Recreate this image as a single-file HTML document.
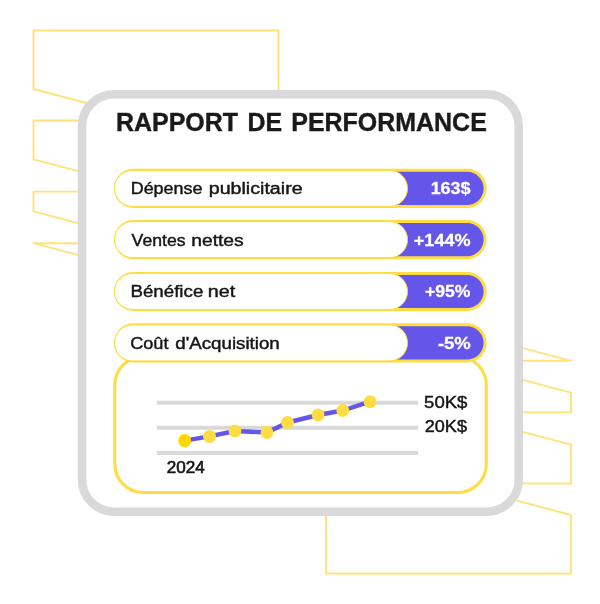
<!DOCTYPE html>
<html><head><meta charset="utf-8">
<style>
html,body{margin:0;padding:0;background:#fff;width:600px;height:604px;overflow:hidden}
svg{display:block;will-change:transform}
text{font-family:"Liberation Sans",sans-serif}
</style></head>
<body>
<svg width="600" height="604" viewBox="0 0 600 604">
  <!-- background folded shapes -->
  <g fill="none" stroke="#FFE27A" stroke-width="1.9" stroke-linejoin="round">
    <polygon points="33.5,30.5 278.5,30.5 278.5,153.9 33.5,89"/>
    <polygon points="33.5,120.5 278.5,120.5 278.5,224.3 33.5,159.4"/>
    <polygon points="33.5,191.6 278.5,191.6 278.5,276.3 33.5,211.4"/>
    <polygon points="33.5,243.2 278.5,243.2 278.5,308.1 33.5,243.2"/>
    <g transform="translate(604.5,604) rotate(180)">
      <polygon points="33.5,30.5 278.5,30.5 278.5,153.9 33.5,89"/>
      <polygon points="33.5,120.5 278.5,120.5 278.5,224.3 33.5,159.4"/>
      <polygon points="33.5,191.6 278.5,191.6 278.5,276.3 33.5,211.4"/>
      <polygon points="33.5,243.2 278.5,243.2 278.5,308.1 33.5,243.2"/>
    </g>
  </g>
  <!-- card -->
  <rect x="82.05" y="94.25" width="436.7" height="417.4" rx="32" ry="32" fill="#fff" stroke="#D9D9D9" stroke-width="8.5"/>
  <g font-size="25" font-weight="bold" fill="#1A1A1A" stroke="#1A1A1A" stroke-width="0.4">
    <text x="116" y="130.8" textLength="122" lengthAdjust="spacingAndGlyphs">RAPPORT</text>
    <text x="247.5" y="130.8" textLength="34.5" lengthAdjust="spacingAndGlyphs">DE</text>
    <text x="291.3" y="130.8" textLength="195.5" lengthAdjust="spacingAndGlyphs">PERFORMANCE</text>
  </g>

  <!-- chart box -->
  <rect x="114.8" y="356.5" width="371.5" height="136" rx="28.5" ry="28.5" fill="#fff" stroke="#FFDC3F" stroke-width="3"/>

  <!-- rows -->
  <rect x="114" y="168.8" width="372.6" height="39.2" rx="19.6" fill="#FFDC3F"/>
  <rect x="200" y="171.80" width="283.6" height="33.2" rx="16.6" fill="#6556EA"/>
  <rect x="114.5" y="170.40" width="293" height="36" rx="18" fill="#fff" stroke="#FFDC3F" stroke-width="1"/>
  <rect x="114" y="220.0" width="372.6" height="39.2" rx="19.6" fill="#FFDC3F"/>
  <rect x="200" y="223.00" width="283.6" height="33.2" rx="16.6" fill="#6556EA"/>
  <rect x="114.5" y="221.60" width="293" height="36" rx="18" fill="#fff" stroke="#FFDC3F" stroke-width="1"/>
  <rect x="114" y="271.9" width="372.6" height="39.2" rx="19.6" fill="#FFDC3F"/>
  <rect x="200" y="274.90" width="283.6" height="33.2" rx="16.6" fill="#6556EA"/>
  <rect x="114.5" y="273.50" width="293" height="36" rx="18" fill="#fff" stroke="#FFDC3F" stroke-width="1"/>
  <rect x="114" y="323.3" width="372.6" height="39.2" rx="19.6" fill="#FFDC3F"/>
  <rect x="200" y="326.30" width="283.6" height="33.2" rx="16.6" fill="#6556EA"/>
  <rect x="114.5" y="324.90" width="293" height="36" rx="18" fill="#fff" stroke="#FFDC3F" stroke-width="1"/>

  <g font-size="16" fill="#151515" stroke="#151515" stroke-width="0.42">
    <text x="130.68" y="193.8" textLength="71.87" lengthAdjust="spacingAndGlyphs">Dépense</text>
    <text x="208.77" y="193.8" textLength="93.82" lengthAdjust="spacingAndGlyphs">publicitaire</text>
    <text x="131.6" y="246.1" textLength="53.93" lengthAdjust="spacingAndGlyphs">Ventes</text>
    <text x="191.2" y="246.1" textLength="52.52" lengthAdjust="spacingAndGlyphs">nettes</text>
    <text x="130.43" y="297.1" textLength="72.88" lengthAdjust="spacingAndGlyphs">Bénéfice</text>
    <text x="207.76" y="297.1" textLength="27.55" lengthAdjust="spacingAndGlyphs">net</text>
    <text x="130.17" y="348.9" textLength="38.3" lengthAdjust="spacingAndGlyphs">Coût</text>
    <text x="175.3" y="348.9" textLength="104.38" lengthAdjust="spacingAndGlyphs">d'Acquisition</text>
  </g>
  <g font-size="17" font-weight="bold" fill="#fff" stroke="#fff" stroke-width="0.3">
    <text x="430.65" y="193.9" textLength="39.87" lengthAdjust="spacingAndGlyphs">163$</text>
    <text x="413.8" y="245.9" textLength="56.75" lengthAdjust="spacingAndGlyphs">+144%</text>
    <text x="425.0" y="297.2" textLength="45.45" lengthAdjust="spacingAndGlyphs">+95%</text>
    <text x="437.9" y="349" textLength="32.85" lengthAdjust="spacingAndGlyphs">-5%</text>
  </g>

  <!-- chart -->
  <g stroke="#D9D9D9" stroke-width="4">
    <line x1="157" y1="402.7" x2="418" y2="402.7"/>
    <line x1="157" y1="427.7" x2="418" y2="427.7"/>
    <line x1="157" y1="453" x2="418" y2="453"/>
  </g>
  <polyline points="184.7,440.6 209.5,436.4 235,431 267,432.5 287.5,422.5 318,415 342.8,410.5 370,401.7" fill="none" stroke="#6556EA" stroke-width="4.4" stroke-linejoin="round"/>
  <g fill="#FFDC3F">
    <circle cx="184.7" cy="440.6" r="6.5" fill="#FFD600"/>
    <circle cx="209.5" cy="436.4" r="6.5"/>
    <circle cx="235" cy="431" r="6.4"/>
    <circle cx="267" cy="432.5" r="6.4"/>
    <circle cx="287.5" cy="422.5" r="6.4"/>
    <circle cx="318" cy="415" r="6.4"/>
    <circle cx="342.8" cy="410.5" r="6.4"/>
    <circle cx="370" cy="401.7" r="6.4"/>
  </g>
  <g font-size="16" fill="#151515" stroke="#151515" stroke-width="0.42">
    <text x="424.1" y="407.8" textLength="43.3" lengthAdjust="spacingAndGlyphs">50K$</text>
    <text x="424.8" y="431.9" textLength="42.12" lengthAdjust="spacingAndGlyphs">20K$</text>
    <text x="166.8" y="472.8" font-size="16.2" stroke-width="0.6" textLength="38.02" lengthAdjust="spacingAndGlyphs">2024</text>
  </g>
</svg>
</body></html>
